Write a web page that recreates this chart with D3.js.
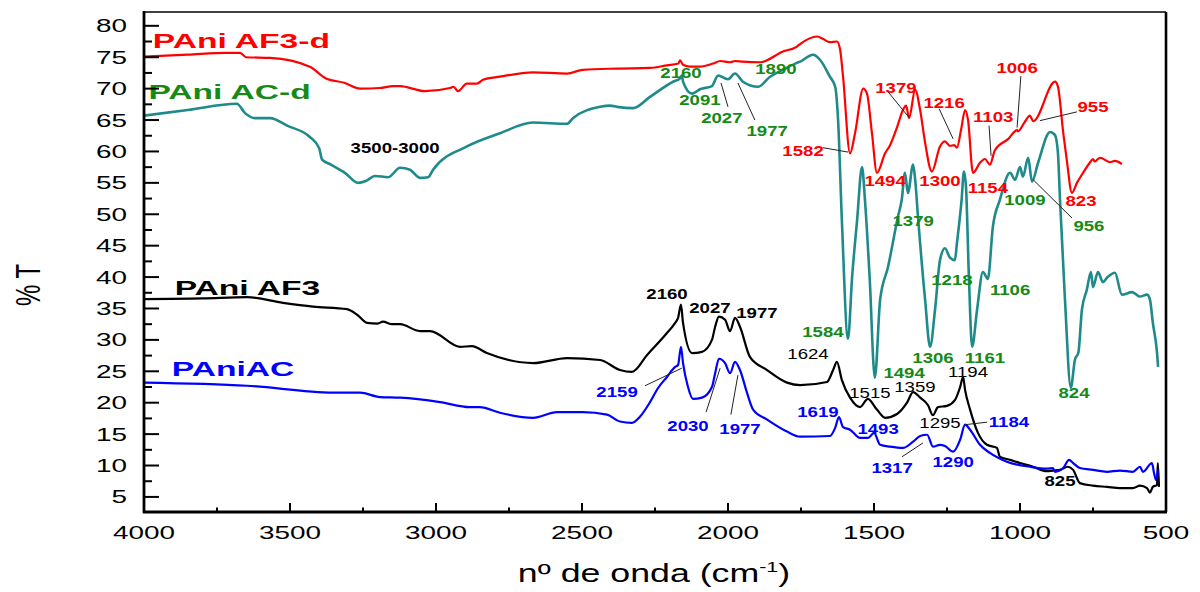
<!DOCTYPE html>
<html>
<head>
<meta charset="utf-8">
<script src="https://cdn.jsdelivr.net/npm/d3@7"></script>
<style>
  html, body { margin: 0; padding: 0; background: #fff; }
  svg { display: block; }
  text { font-family: "Liberation Sans", Arial, sans-serif; }
</style>
</head>
<body>
<svg id="chart" width="1200" height="592"></svg>
<script>
// FTIR spectra: wavenumber (cm-1) vs % transmittance

const wnTicks = [4000, 3500, 3000, 2500, 2000, 1500, 1000, 500];
const tTicks = [5, 10, 15, 20, 25, 30, 35, 40, 45, 50, 55, 60, 65, 70, 75, 80];

const seriesNames = ["PAni AF3-d", "PAni AC-d", "PAni AF3", "PAniAC"];

// PAni AF3-d  [wavenumber, %T]
const specAF3d = [
  [4000,75.1],[3850,75.4],[3720,75.7],[3671,75.7],[3650,75.0],[3568,74.9],[3432,73.5],[3380,71.7],
  [3312,70.9],[3260,70.0],[3192,70.1],[3147,70.4],[3123,70.4],[3038,69.6],[2952,70.1],[2940,70.3],
  [2925,69.6],[2894,70.8],[2860,70.8],[2839,71.4],[2781,71.9],[2668,72.6],[2551,72.4],[2497,73.0],
  [2380,73.2],[2267,73.3],[2209,73.7],[2170,74.0],[2164,74.5],[2154,73.8],[2130,73.5],[2096,73.5],
  [2051,74.0],[2027,74.4],[1993,74.2],[1976,74.4],[1950,74.3],[1890,74.2],[1812,75.9],[1764,76.7],
  [1753,77.1],[1695,78.3],[1674,77.9],[1651,77.4],[1627,77.5],[1616,76.2],[1606,71.9],[1582,59.7],
  [1565,62.9],[1537,70.0],[1524,69.2],[1507,62.9],[1490,56.6],[1462,59.7],[1445,61.0],[1420,64.0],
  [1401,66.6],[1390,67.3],[1380,65.3],[1359,69.8],[1342,66.6],[1325,61.4],[1302,56.8],[1274,60.8],
  [1257,61.6],[1240,60.9],[1225,61.0],[1216,60.6],[1202,63.4],[1188,66.6],[1178,65.0],[1161,56.6],
  [1137,58.2],[1120,58.8],[1103,57.9],[1086,60.2],[1040,62.0],[1010,63.4],[1007,63.2],[985,64.6],
  [966,65.7],[955,64.8],[880,71.1],[870,70.3],[852,63.0],[840,58.7],[822,53.4],[805,55.0],
  [784,56.6],[761,58.2],[750,58.8],[744,58.4],[726,59.0],[692,58.3],[675,58.5],[651,58.0]
];

// PAni AC-d
const specACd = [
  [4000,65.7],[3850,66.6],[3682,67.6],[3654,66.1],[3620,65.3],[3568,65.3],[3510,64.1],[3432,62.3],
  [3400,60.5],[3390,58.7],[3360,57.9],[3312,56.6],[3267,55.0],[3240,55.3],[3209,56.1],[3164,55.9],
  [3123,57.4],[3089,57.1],[3055,55.8],[3027,55.9],[3010,57.1],[2894,60.8],[2781,62.9],[2668,64.6],
  [2551,64.4],[2531,65.3],[2438,67.1],[2404,67.3],[2380,67.1],[2325,66.9],[2267,68.7],[2188,71.1],
  [2165,71.6],[2158,72.1],[2154,71.1],[2123,69.2],[2096,69.9],[2055,70.4],[2034,72.1],[2000,71.5],
  [1976,72.4],[1949,71.1],[1897,70.3],[1856,71.9],[1812,73.0],[1764,74.1],[1753,74.3],[1709,75.4],
  [1685,74.6],[1651,71.9],[1633,70.3],[1623,65.0],[1610,49.0],[1589,30.2],[1575,40.0],[1558,49.0],
  [1541,57.5],[1531,52.3],[1515,40.0],[1497,24.0],[1479,36.4],[1452,41.6],[1418,49.6],[1405,52.3],
  [1394,56.6],[1384,53.4],[1366,57.9],[1359,55.5],[1350,50.0],[1325,36.4],[1308,28.9],[1291,34.8],
  [1274,42.7],[1257,44.6],[1240,43.1],[1223,42.7],[1216,45.4],[1200,52.3],[1192,56.8],[1185,54.4],
  [1175,40.0],[1164,28.9],[1147,34.8],[1127,40.8],[1110,39.7],[1093,48.0],[1069,52.3],[1034,56.6],
  [1017,55.5],[1000,57.5],[990,56.0],[972,59.0],[959,55.2],[938,58.2],[897,63.1],[880,62.6],
  [870,59.7],[863,52.3],[846,36.4],[826,22.4],[812,26.8],[800,28.0],[788,34.8],[771,38.0],
  [757,40.8],[750,38.4],[733,40.8],[716,39.2],[700,40.0],[675,40.7],[651,37.2],[616,37.6],
  [590,36.9],[565,37.2],[555,36.4],[545,32.7],[531,28.1],[527,25.7]
];

// PAni AF3
const specAF3 = [
  [4000,36.5],[3800,36.6],[3647,36.8],[3524,35.9],[3421,35.3],[3305,34.9],[3270,34.0],[3236,32.7],
  [3200,32.6],[3182,32.9],[3150,32.5],[3123,32.5],[3055,31.4],[3020,31.4],[2918,28.9],[2877,29.0],
  [2826,27.9],[2668,26.3],[2551,27.1],[2438,26.8],[2370,25.2],[2329,24.9],[2277,27.6],[2209,31.1],
  [2181,32.7],[2171,33.5],[2161,35.6],[2154,32.7],[2123,27.9],[2089,28.1],[2055,30.0],[2044,32.1],
  [2031,33.7],[2010,33.2],[1993,31.4],[1976,33.5],[1959,32.1],[1925,27.3],[1866,25.2],[1798,23.2],
  [1753,22.8],[1661,23.3],[1640,25.2],[1627,26.5],[1610,23.6],[1582,20.8],[1548,19.3],[1521,20.6],
  [1490,18.9],[1462,17.6],[1421,18.2],[1387,20.0],[1366,21.7],[1342,20.8],[1315,19.6],[1298,18.0],
  [1281,19.3],[1250,19.5],[1223,20.4],[1205,22.5],[1195,24.1],[1188,22.0],[1171,18.9],[1144,15.2],
  [1113,13.3],[1079,12.8],[1069,11.4],[1034,10.9],[1000,10.4],[955,9.8],[908,9.1],[887,9.2],
  [863,9.3],[836,9.8],[818,9.3],[795,7.2],[750,6.8],[702,6.6],[658,6.4],[613,6.4],
  [589,6.8],[565,6.4],[555,5.7],[545,6.6],[531,6.9],[528,10.4],[524,6.6]
];

// PAniAC
const specAC = [
  [4000,23.2],[3647,22.7],[3353,21.6],[3260,21.6],[3192,20.9],[3123,20.8],[2986,20.1],[2884,19.3],
  [2850,19.3],[2781,18.4],[2668,17.6],[2586,18.5],[2497,18.5],[2414,18.1],[2370,17.0],[2329,16.8],
  [2301,17.8],[2267,20.1],[2240,22.3],[2209,24.1],[2181,25.7],[2171,26.0],[2161,28.9],[2154,26.3],
  [2137,22.5],[2120,20.6],[2089,20.8],[2055,22.5],[2044,24.7],[2031,27.0],[2010,26.3],[1993,24.7],
  [1976,26.5],[1959,25.2],[1935,21.6],[1914,18.9],[1866,17.3],[1798,15.4],[1753,14.6],[1651,14.7],
  [1633,16.0],[1620,17.7],[1606,16.1],[1582,15.7],[1548,14.4],[1520,14.4],[1500,15.2],[1479,13.3],
  [1445,13.0],[1401,12.8],[1366,13.8],[1342,14.7],[1318,14.9],[1298,13.0],[1274,13.3],[1257,13.1],
  [1229,12.2],[1205,14.1],[1188,16.5],[1171,15.7],[1137,13.3],[1103,12.0],[1045,10.6],[966,9.8],
  [908,9.5],[887,9.6],[880,9.0],[852,9.6],[832,10.9],[818,10.4],[795,9.6],[750,9.3],
  [702,9.0],[658,9.2],[613,9.0],[589,9.8],[579,9.0],[548,10.4],[541,8.8],[534,7.7],[527,9.3]
];

// Peak labels, anchored in data units [text, wavenumber, %T] (label centre / baseline)
const peaksAF3d = [
  ["1582",1743,59.3],["1379",1425,69.3],["1216",1260,66.9],["1103",1092,64.7],["1006",1010,72.5],
  ["955",750,66.3],["1494",1462,54.5],["1300",1274,54.5],["1154",1110,53.4],["823",791,51.3]
];
const peaksACd = [
  ["2160",2161,71.7],["2091",2096,67.4],["2027",2021,64.6],["1977",1866,62.5],["1890",1836,72.4],
  ["1379",1366,48.2],["1218",1233,38.8],["1106",1034,37.2],["1584",1675,30.5],["1306",1298,26.3],
  ["1161",1120,26.3],["1494",1397,23.9],["824",815,20.8],["1009",983,51.5],["956",764,47.4]
];
const peaksAF3 = [
  ["2160",2209,36.5],["2027",2062,34.3],["1977",1901,33.5],["825",863,6.75]
];
const peaksAF3thin = [
  ["1624",1726,27.0],["1515",1514,20.8],["1359",1360,21.7],["1194",1178,24.1],["1295",1274,16.0]
];
const peaksAC = [
  ["2159",2380,20.9],["2030",2137,15.5],["1977",1959,15.0],["1619",1692,17.7],["1493",1486,15.0],
  ["1317",1438,8.8],["1290",1229,9.8],["1184",1038,16.1]
];
const bandLabel = [["3500-3000",3140,59.8]];

// Leader lines from labels to peaks [wn1, T1, wn2, T2]
const leaders = [
  [2024,70.9,2000,67.1],[1966,70.9,1908,65.0],[955,55.5,822,49.4],
  [1675,60.6,1589,59.9],[1452,69.5,1380,65.4],[1277,66.8,1229,62.0],[1106,64.1,1099,59.3],
  [997,72.0,1010,63.8],[805,66.3,932,64.9],
  [2284,22.7,2158,25.5],[2027,25.5,2075,18.5],[1966,24.4,1990,18.1],[1404,11.4,1332,13.6],
  [1188,16.5,1113,16.9]
];

// Series name labels [wavenumber, %T] (left edge / baseline)
const nameAnchors = [
  [3970,76.5],[3985,68.3],[3895,37.1],[3905,24.2]
];

const RED = "#ff0000", TEAL = "#1f8a8a", BLACK = "#000000", BLUE = "#0000ff", GREEN = "#168a16";

const svg = d3.select("#chart");
const mLeft = 144, mRight = 1166, mTop = 12, mBottom = 512;

const x = d3.scaleLinear().domain([4000, 500]).range([mLeft, mRight]);
const y = d3.scaleLinear().domain([2.6, 82.2]).range([mBottom, mTop]);

// Stretched text helper (glyphs widened horizontally)
function label(g, px, py, str, o) {
  return g.append("text")
    .attr("transform", `translate(${px},${py}) scale(${o.sx || 1},1)` + (o.rot ? ` rotate(${o.rot})` : ""))
    .attr("text-anchor", o.anchor || "middle")
    .attr("font-size", o.size)
    .attr("font-weight", o.bold ? "bold" : "normal")
    .attr("fill", o.color || "#000")
    .text(str);
}

// Spectra
const line = d3.line().curve(d3.curveMonotoneX).x(d => x(d[0])).y(d => y(d[1]));
const gLines = svg.append("g").attr("fill", "none").attr("stroke-linejoin", "round");
const series = [
  [specAF3d, RED, 2.2],
  [specACd, TEAL, 2.6],
  [specAF3, BLACK, 2.2],
  [specAC, BLUE, 2.2]
];
series.forEach(([data, color, w]) => {
  gLines.append("path").datum(data).attr("d", line).attr("stroke", color).attr("stroke-width", w);
});

// Leader lines
svg.append("g").selectAll("line").data(leaders).join("line")
  .attr("x1", d => x(d[0])).attr("y1", d => y(d[1]))
  .attr("x2", d => x(d[2])).attr("y2", d => y(d[3]))
  .attr("stroke", "#222").attr("stroke-width", 1);

// Peak labels
const gPeaks = svg.append("g");
const peakSets = [
  [peaksAF3d, RED, true], [peaksACd, GREEN, true], [peaksAF3, BLACK, true],
  [peaksAF3thin, BLACK, false], [peaksAC, BLUE, true], [bandLabel, BLACK, true]
];
peakSets.forEach(([arr, color, bold]) => {
  arr.forEach(([s, wn, t]) => {
    label(gPeaks, x(wn), y(t), s, { size: 14, sx: 1.33, bold, color });
  });
});

// Series names
const nameColors = [RED, GREEN, BLACK, BLUE];
seriesNames.forEach((s, i) => {
  label(svg, x(nameAnchors[i][0]), y(nameAnchors[i][1]), s,
    { size: 21, sx: 1.6, bold: true, color: nameColors[i], anchor: "start" });
});

// Axes: ticks pointing inward
const xMinor = d3.range(3750, 500, -500);
const yMinor = d3.range(7.5, 82, 5);
const gAxis = svg.append("g").attr("stroke", "#000");

gAxis.selectAll(".xt").data(wnTicks).join("line")
  .attr("x1", d => x(d)).attr("x2", d => x(d)).attr("y1", mBottom).attr("y2", mBottom - 9).attr("stroke-width", 2);
gAxis.selectAll(".xm").data(xMinor).join("line")
  .attr("x1", d => x(d)).attr("x2", d => x(d)).attr("y1", mBottom).attr("y2", mBottom - 4.5).attr("stroke-width", 2);
gAxis.selectAll(".yt").data(tTicks).join("line")
  .attr("x1", mLeft).attr("x2", mLeft + 15).attr("y1", d => y(d)).attr("y2", d => y(d)).attr("stroke-width", 2);
gAxis.selectAll(".ym").data(yMinor).join("line")
  .attr("x1", mLeft).attr("x2", mLeft + 8).attr("y1", d => y(d)).attr("y2", d => y(d)).attr("stroke-width", 2);

// Frame
gAxis.append("line").attr("x1", mLeft).attr("x2", mRight).attr("y1", mTop).attr("y2", mTop).attr("stroke-width", 1.5);
gAxis.append("line").attr("x1", mRight).attr("x2", mRight).attr("y1", mTop).attr("y2", mBottom).attr("stroke-width", 2.6);
gAxis.append("line").attr("x1", mLeft).attr("x2", mLeft).attr("y1", mTop - 1).attr("y2", mBottom + 1).attr("stroke-width", 2.8);
gAxis.append("line").attr("x1", mLeft - 1).attr("x2", mRight + 1).attr("y1", mBottom).attr("y2", mBottom).attr("stroke-width", 2.8);

// Tick labels
const gTickLabels = svg.append("g");
wnTicks.forEach(v => label(gTickLabels, x(v), 539, String(v), { size: 18, sx: 1.55 }));
tTicks.forEach(v => label(gTickLabels, 127, y(v) + 6.5, String(v), { size: 18, sx: 1.55, anchor: "end" }));

// Axis titles
const xt = svg.append("text")
  .attr("transform", `translate(654,582) scale(1.43,1)`)
  .attr("text-anchor", "middle")
  .attr("font-size", 25);
xt.append("tspan").text("nº de onda (cm");
xt.append("tspan").attr("font-size", 15).attr("dy", -10).text("-1");
xt.append("tspan").attr("dy", 10).text(")");

label(svg, 40, 285, "% T", { size: 24, sx: 1.5, rot: -90 });
</script>
</body>
</html>
